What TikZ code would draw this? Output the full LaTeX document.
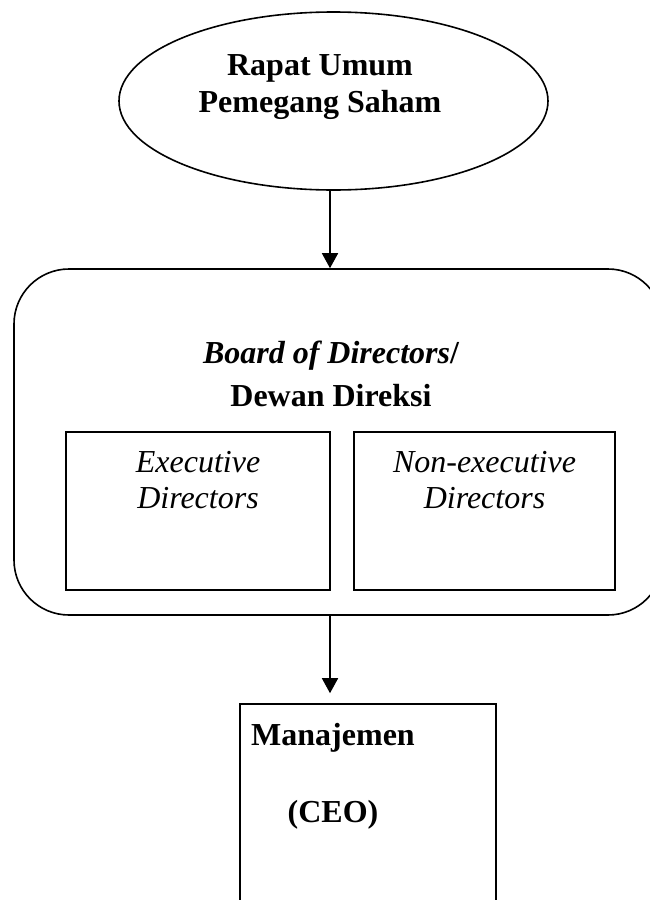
\documentclass[tikz,border=0pt]{standalone}
\usepackage{fontspec}
\setmainfont{Liberation Serif}
\usetikzlibrary{shapes.geometric,arrows.meta}
\begin{document}
\begin{tikzpicture}[x=1pt,y=-1pt,
  frame/.style={draw, line width=1.6pt, inner sep=0pt},
  caption/.style={font=\fontsize{32}{37}\selectfont, inner sep=0pt, align=center, anchor=base},
  flow/.style={line width=1.6pt, -{Triangle[width=16pt,length=15pt]}}]
\useasboundingbox (0,0) rectangle (650,900);
\clip (0,0) rectangle (650,900);

% column of the vertical connectors
\coordinate (axis) at (330,0);

% general meeting of shareholders (text placed by the baseline of its last line)
\node[frame, ellipse, minimum width=429pt, minimum height=178pt] (rups) at (333.5,101) {};
\node[caption, font=\fontsize{32}{37}\selectfont\bfseries] (rupstext) at (320,112)
  {Rapat Umum\\Pemegang Saham};

% board of directors with its two groups
\node[frame, rectangle, rounded corners=55pt, minimum width=649pt, minimum height=346pt]
  (board) at (338.5,442) {};
\node[caption, font=\fontsize{32}{43}\selectfont\bfseries] (boardtext) at (331,406)
  {\textit{Board of Directors}/\\Dewan Direksi};

\node[frame, rectangle, minimum width=264pt, minimum height=158pt] (exec) at (198,511) {};
\node[caption, font=\fontsize{32}{36}\selectfont\itshape] (exectext) at (198,508)
  {Executive\\Directors};

\node[frame, rectangle, minimum width=261pt, minimum height=158pt] (nonexec) at (484.5,511) {};
\node[caption, font=\fontsize{32}{36}\selectfont\itshape] (nonexectext) at (484.5,508)
  {Non-executive\\Directors};

% management
\node[frame, rectangle, minimum width=256pt, minimum height=236pt] (mgmt) at (368,822) {};
\node[caption, font=\fontsize{32}{37}\selectfont\bfseries] (mgmttext) at (333,822)
  {Manajemen\\[40pt](CEO)};

% connectors
\draw[flow] (rups.south -| axis) -- (board.north -| axis);
\draw[flow, shorten >=10pt] (board.south -| axis) -- (mgmt.north -| axis);
\end{tikzpicture}
\end{document}
